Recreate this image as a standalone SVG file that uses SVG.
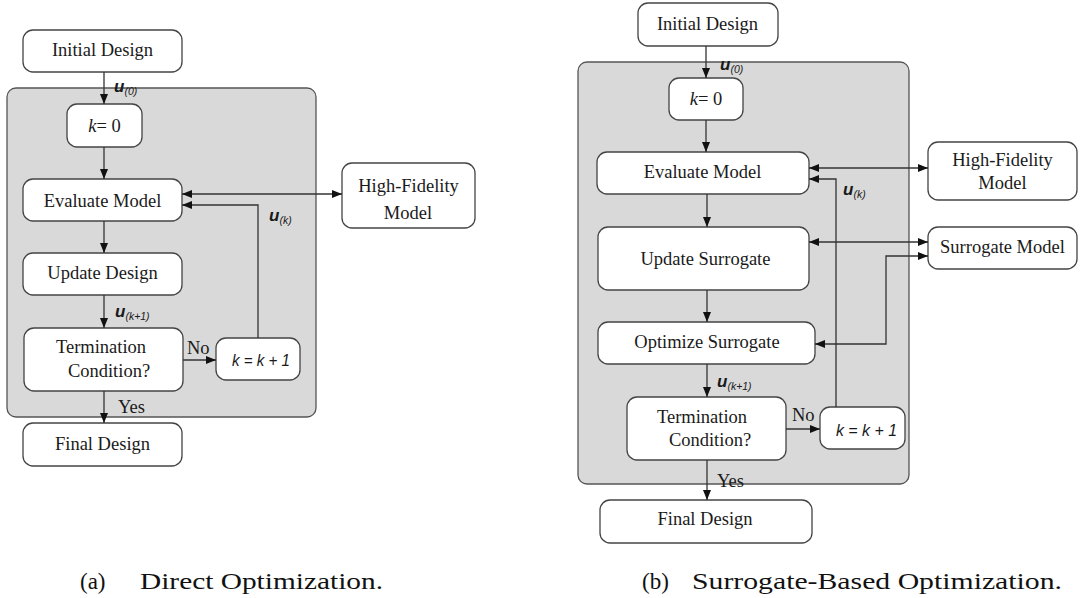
<svg xmlns="http://www.w3.org/2000/svg" width="1080" height="598" viewBox="0 0 1080 598">
<style>
.panel{fill:#d9d9d9;stroke:#555;stroke-width:1.3}
.box{fill:#fff;stroke:#444;stroke-width:1.3}
.t{font-family:"Liberation Serif","Times New Roman",serif;font-size:18.5px;fill:#1a1a1a;text-anchor:middle}
.lbl{font-family:"Liberation Serif","Times New Roman",serif;font-size:18.5px;fill:#1a1a1a}
.kk{font-family:"Liberation Sans",Arial,sans-serif;font-style:italic;font-size:17px;fill:#1a1a1a;text-anchor:middle}
.u{font-family:"Liberation Sans",Arial,sans-serif;font-style:italic;font-weight:bold;font-size:17px;fill:#1a1a1a}
.sub{font-weight:normal;font-size:10.5px}
.cap{font-family:"Liberation Serif","Times New Roman",serif;font-size:23px;fill:#111}
.c{fill:none;stroke:#333;stroke-width:1.3}
</style>
<defs>
<marker id="ah" viewBox="0 0 10 8" refX="10" refY="4" markerWidth="10" markerHeight="8" markerUnits="userSpaceOnUse" orient="auto-start-reverse">
<path d="M0,0 L10,4 L0,8 z" fill="#111"/>
</marker>
</defs>

<!-- (a) Direct Optimization -->
<rect id="panel-a" class="panel" x="7" y="88" width="309" height="329" rx="9"/>

<g id="a-initial"><rect class="box" x="23" y="30" width="159" height="42" rx="10"/><text class="t" x="102.5" y="56">Initial Design</text></g>
<g id="a-k0"><rect class="box" x="67" y="104" width="75" height="43" rx="10"/><text class="t" x="104.5" y="132"><tspan font-style="italic">k</tspan>= 0</text></g>
<g id="a-eval"><rect class="box" x="23" y="179" width="159" height="42" rx="10"/><text class="t" x="102.5" y="207">Evaluate Model</text></g>
<g id="a-hf"><rect class="box" x="342" y="163" width="133" height="65" rx="10"/><text class="t" x="408.5" y="192">High-Fidelity</text><text class="t" x="408" y="219">Model</text></g>
<g id="a-update"><rect class="box" x="23" y="253" width="159" height="42" rx="10"/><text class="t" x="102.5" y="279">Update Design</text></g>
<g id="a-term"><rect class="box" x="24" y="328" width="159" height="63" rx="10"/><text class="t" x="101" y="353">Termination</text><text class="t" x="109" y="377">Condition?</text></g>
<g id="a-kinc"><rect class="box" x="216" y="338" width="84" height="42" rx="10"/><text class="kk" x="261" y="366" textLength="58" lengthAdjust="spacingAndGlyphs">k = k + 1</text></g>
<g id="a-final"><rect class="box" x="23" y="423" width="159" height="43" rx="10"/><text class="t" x="102.5" y="450">Final Design</text></g>

<g id="a-connectors">
<line class="c" x1="104" y1="72" x2="104" y2="104" marker-end="url(#ah)"/>
<line class="c" x1="104" y1="147" x2="104" y2="179" marker-end="url(#ah)"/>
<line class="c" x1="104" y1="221" x2="104" y2="253" marker-end="url(#ah)"/>
<line class="c" x1="104" y1="295" x2="104" y2="328" marker-end="url(#ah)"/>
<line class="c" x1="104" y1="391" x2="104" y2="423" marker-end="url(#ah)"/>
<line class="c" x1="183" y1="360" x2="216" y2="360" marker-end="url(#ah)"/>
<polyline class="c" points="258,338 258,205 182,205" marker-end="url(#ah)"/>
<line class="c" x1="182" y1="194" x2="342" y2="194" marker-start="url(#ah)" marker-end="url(#ah)"/>
<text class="u" x="114" y="92">u<tspan class="sub" dy="3">(0)</tspan></text>
<text class="u" x="269" y="221">u<tspan class="sub" dy="3">(k)</tspan></text>
<text class="u" x="115" y="317">u<tspan class="sub" dy="3">(k+1)</tspan></text>
<text class="lbl" x="187" y="354">No</text>
<text class="lbl" x="118" y="413">Yes</text>
</g>

<!-- (b) Surrogate-Based Optimization -->
<rect id="panel-b" class="panel" x="578" y="62" width="331" height="422" rx="9"/>

<g id="b-initial"><rect class="box" x="638" y="3" width="140" height="43" rx="10"/><text class="t" x="707.5" y="30">Initial Design</text></g>
<g id="b-k0"><rect class="box" x="669" y="78" width="74" height="42" rx="10"/><text class="t" x="706" y="105"><tspan font-style="italic">k</tspan>= 0</text></g>
<g id="b-eval"><rect class="box" x="597" y="152" width="212" height="42" rx="10"/><text class="t" x="702.5" y="178">Evaluate Model</text></g>
<g id="b-hf"><rect class="box" x="928" y="142" width="149" height="58" rx="10"/><text class="t" x="1002.5" y="166">High-Fidelity</text><text class="t" x="1002.5" y="189">Model</text></g>
<g id="b-update"><rect class="box" x="598" y="227" width="211" height="63" rx="10"/><text class="t" x="705.5" y="265">Update Surrogate</text></g>
<g id="b-surr"><rect class="box" x="928" y="227" width="149" height="42" rx="10"/><text class="t" x="1002.5" y="253">Surrogate Model</text></g>
<g id="b-opt"><rect class="box" x="598" y="322" width="217" height="42" rx="10"/><text class="t" x="707" y="348">Optimize Surrogate</text></g>
<g id="b-term"><rect class="box" x="627" y="397" width="159" height="63" rx="10"/><text class="t" x="702" y="423">Termination</text><text class="t" x="710" y="446">Condition?</text></g>
<g id="b-kinc"><rect class="box" x="820" y="407" width="85" height="42" rx="10"/><text class="kk" x="866.5" y="436" textLength="61" lengthAdjust="spacingAndGlyphs">k = k + 1</text></g>
<g id="b-final"><rect class="box" x="600" y="500" width="212" height="43" rx="10"/><text class="t" x="705" y="525">Final Design</text></g>

<g id="b-connectors">
<line class="c" x1="706" y1="46" x2="706" y2="78" marker-end="url(#ah)"/>
<line class="c" x1="706" y1="120" x2="706" y2="152" marker-end="url(#ah)"/>
<line class="c" x1="707" y1="194" x2="707" y2="227" marker-end="url(#ah)"/>
<line class="c" x1="707" y1="290" x2="707" y2="322" marker-end="url(#ah)"/>
<line class="c" x1="707" y1="364" x2="707" y2="397" marker-end="url(#ah)"/>
<line class="c" x1="707" y1="460" x2="707" y2="500" marker-end="url(#ah)"/>
<line class="c" x1="786" y1="429" x2="820" y2="429" marker-end="url(#ah)"/>
<polyline class="c" points="836,407 836,179 809,179" marker-end="url(#ah)"/>
<line class="c" x1="809" y1="168" x2="928" y2="168" marker-start="url(#ah)" marker-end="url(#ah)"/>
<line class="c" x1="809" y1="242" x2="928" y2="242" marker-start="url(#ah)" marker-end="url(#ah)"/>
<polyline class="c" points="815,344 886,344 886,256 928,256" marker-start="url(#ah)" marker-end="url(#ah)"/>
<text class="u" x="720" y="70">u<tspan class="sub" dy="3">(0)</tspan></text>
<text class="u" x="843" y="195">u<tspan class="sub" dy="3">(k)</tspan></text>
<text class="u" x="717" y="387">u<tspan class="sub" dy="3">(k+1)</tspan></text>
<text class="lbl" x="792" y="421">No</text>
<text class="lbl" x="717" y="487">Yes</text>
</g>

<g id="captions">
<text class="cap" x="80" y="589">(a)</text>
<text class="cap" x="140" y="589" textLength="243" lengthAdjust="spacingAndGlyphs">Direct Optimization.</text>
<text class="cap" x="642" y="589">(b)</text>
<text class="cap" x="692" y="589" textLength="370" lengthAdjust="spacingAndGlyphs">Surrogate-Based Optimization.</text>
</g>
</svg>
